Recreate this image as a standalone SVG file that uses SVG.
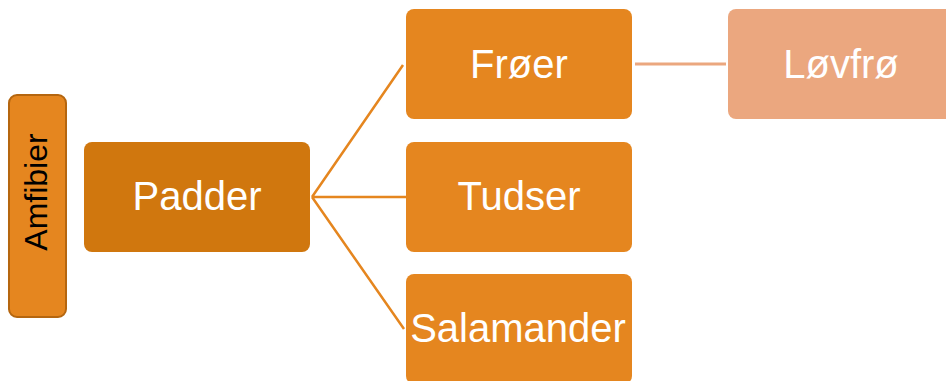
<svg xmlns="http://www.w3.org/2000/svg" width="946" height="381" viewBox="0 0 946 381">
<style>
.box{fill:#E5861F;}
.lbl{font-family:"Liberation Sans",Arial,sans-serif;font-size:40px;fill:#ffffff;text-anchor:middle;}
.conn{stroke:#E5861F;stroke-width:2.5;fill:none;}
</style>
<rect width="946" height="381" fill="#ffffff"/>
<g id="connectors">
<path class="conn" d="M312,197 L403,65 M312,197 L406,197 M312,197 L404,329"/>
<line x1="635" y1="64" x2="726" y2="64" stroke="#EBA77F" stroke-width="3"/>
</g>
<g id="amfibier">
<rect x="9" y="95" width="57" height="222" rx="8" fill="#E5861F" stroke="#B5660F" stroke-width="2"/>
<text transform="translate(47,192) rotate(-90)" font-family="Liberation Sans,Arial,sans-serif" font-size="32" fill="#000000" text-anchor="middle">Amfibier</text>
</g>
<g id="padder">
<rect x="84" y="142" width="226" height="110" rx="8" fill="#D0770E"/>
<text class="lbl" x="197" y="210">Padder</text>
</g>
<g id="froer">
<rect class="box" x="406" y="9" width="226" height="110" rx="8"/>
<text class="lbl" x="519" y="78">Frøer</text>
</g>
<g id="tudser">
<rect class="box" x="406" y="142" width="226" height="110" rx="8"/>
<text class="lbl" x="519" y="210">Tudser</text>
</g>
<g id="salamander">
<rect class="box" x="406" y="274" width="226" height="110" rx="8"/>
<text class="lbl" x="518" y="342">Salamander</text>
</g>
<g id="lovfro">
<rect x="728" y="9" width="226" height="110" rx="8" fill="#EBA77F"/>
<text class="lbl" x="841" y="78">Løvfrø</text>
</g>
</svg>
